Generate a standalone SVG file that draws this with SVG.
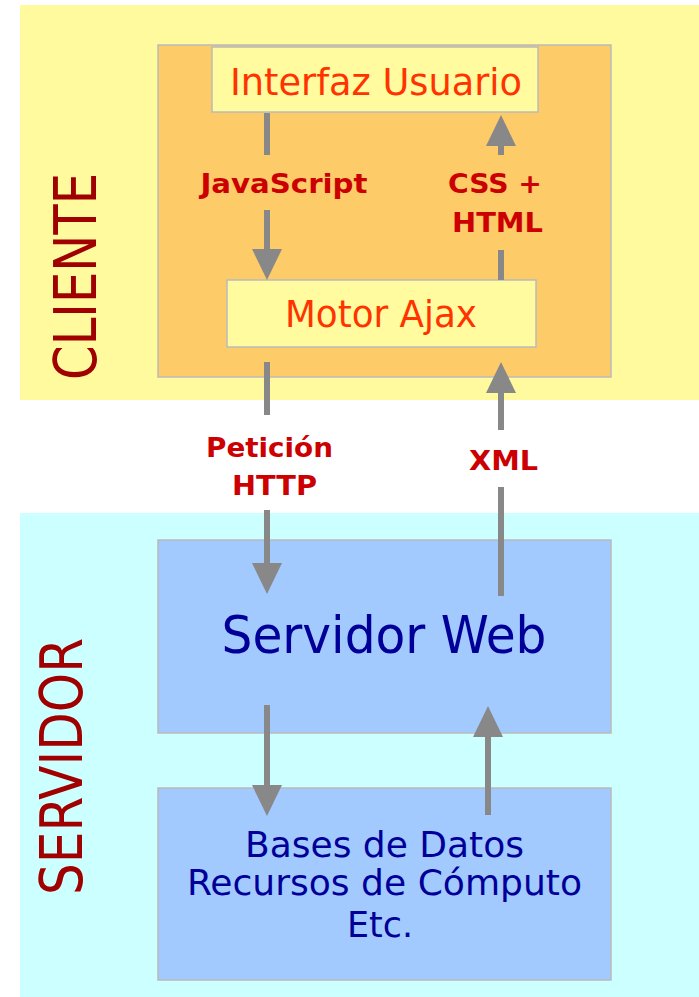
<svg xmlns="http://www.w3.org/2000/svg" width="699" height="997" viewBox="0 0 699 997">
<defs>
<style>
.band-c{fill:#FFFA9E;}
.band-s{fill:#CCFFFF;}
.outer{fill:#FDCB68;stroke:#BBBBBB;stroke-width:1.5;}
.ybox{fill:#FFFB9E;stroke:#BBBBBB;stroke-width:1.5;}
.bbox{fill:#A2CAFF;stroke:#BBBBBB;stroke-width:1.5;}
.t{font-family:"DejaVu Sans Condensed","DejaVu Sans",sans-serif;text-anchor:middle;}
.side{fill:#A00000;font-size:58px;}
.red{fill:#FF3300;font-size:38px;}
.navy{fill:#000099;}
.lbl{fill:#CC0000;font-size:27px;font-weight:bold;}
.ln{stroke:#888888;stroke-width:6;fill:none;}
</style>
<marker id="ah" markerUnits="userSpaceOnUse" markerWidth="31" markerHeight="30" refX="0" refY="15" orient="auto" viewBox="0 0 31 30">
<path d="M0,0 L31,15 L0,30 Z" fill="#888888"/>
</marker>
</defs>
<rect width="699" height="997" fill="#FFFFFF"/>
<g id="cliente">
<rect class="band-c" x="20" y="5" width="679" height="395"/>
<text class="t side" transform="translate(96,276.5) rotate(-90)" textLength="207" lengthAdjust="spacingAndGlyphs">CLIENTE</text>
</g>
<g id="servidor">
<rect class="band-s" x="20" y="513" width="679" height="484"/>
<text class="t side" transform="translate(82,766.5) rotate(-90)" textLength="257" lengthAdjust="spacingAndGlyphs">SERVIDOR</text>
</g>
<g id="navegador">
<rect class="outer" x="158" y="45" width="453" height="332"/>
</g>
<g id="interfaz">
<rect class="ybox" x="212" y="47" width="326" height="65"/>
<text class="t red" x="376" y="95" textLength="292" lengthAdjust="spacingAndGlyphs">Interfaz Usuario</text>
</g>
<g id="motor">
<rect class="ybox" x="227" y="280" width="309" height="67"/>
<text class="t red" x="381" y="327" textLength="192" lengthAdjust="spacingAndGlyphs">Motor Ajax</text>
</g>
<g id="servidorweb">
<rect class="bbox" x="158" y="540" width="453" height="193"/>
<text class="t navy" x="384" y="653" font-size="52" textLength="325" lengthAdjust="spacingAndGlyphs">Servidor Web</text>
</g>
<g id="bases">
<rect class="bbox" x="158" y="788" width="453" height="192"/>
<text class="t navy" x="384.5" y="857" font-size="35" textLength="279" lengthAdjust="spacingAndGlyphs">Bases de Datos</text>
<text class="t navy" x="384.5" y="895" font-size="35" textLength="395" lengthAdjust="spacingAndGlyphs">Recursos de Cómputo</text>
<text class="t navy" x="380" y="937" font-size="35" textLength="66" lengthAdjust="spacingAndGlyphs">Etc.</text>
</g>
<g id="connectors">
<line class="ln" x1="267" y1="113" x2="267" y2="155"/>
<line class="ln" x1="267" y1="210" x2="267" y2="249" marker-end="url(#ah)"/>
<line class="ln" x1="501" y1="280" x2="501" y2="250"/>
<line class="ln" x1="501" y1="155" x2="501" y2="146" marker-end="url(#ah)"/>
<line class="ln" x1="267" y1="362" x2="267" y2="415"/>
<line class="ln" x1="267" y1="510" x2="267" y2="563" marker-end="url(#ah)"/>
<line class="ln" x1="501" y1="596" x2="501" y2="487"/>
<line class="ln" x1="501" y1="430" x2="501" y2="393" marker-end="url(#ah)"/>
<line class="ln" x1="267" y1="705" x2="267" y2="785" marker-end="url(#ah)"/>
<line class="ln" x1="488" y1="815" x2="488" y2="737" marker-end="url(#ah)"/>
<text class="t lbl" x="284" y="193" textLength="167" lengthAdjust="spacingAndGlyphs">JavaScript</text>
<text class="t lbl" x="495" y="193" textLength="94" lengthAdjust="spacingAndGlyphs">CSS +</text>
<text class="t lbl" x="497.5" y="232" textLength="91" lengthAdjust="spacingAndGlyphs">HTML</text>
<text class="t lbl" x="269.5" y="457" textLength="127" lengthAdjust="spacingAndGlyphs">Petición</text>
<text class="t lbl" x="274.5" y="495" textLength="85" lengthAdjust="spacingAndGlyphs">HTTP</text>
<text class="t lbl" x="503.5" y="470" textLength="69" lengthAdjust="spacingAndGlyphs">XML</text>
</g>
</svg>
